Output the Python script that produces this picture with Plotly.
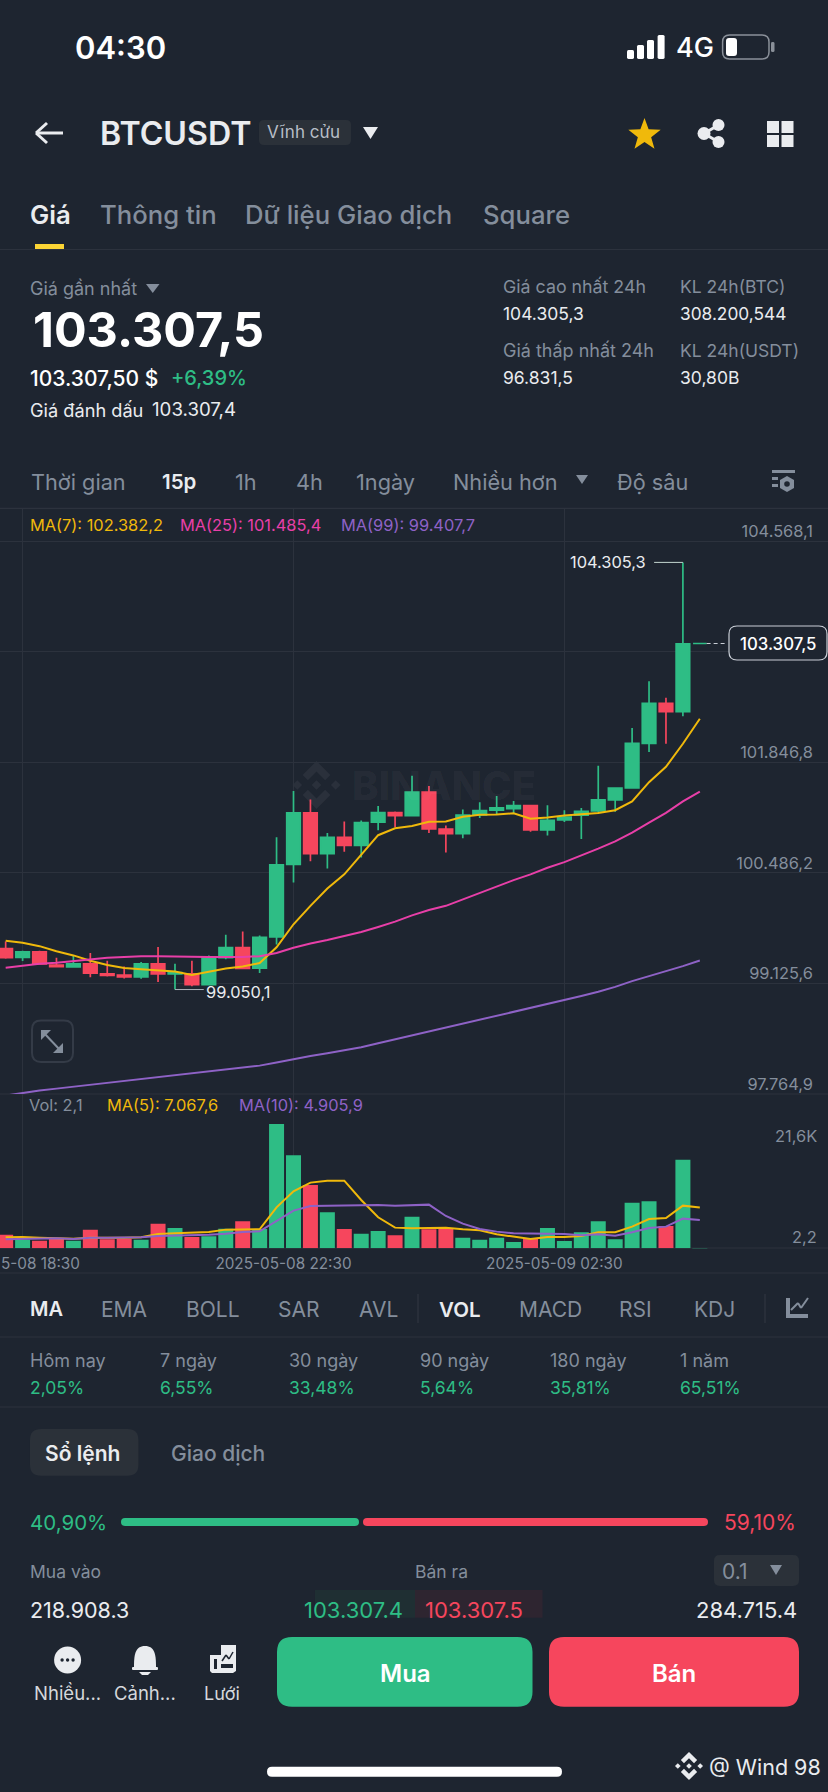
import math
import plotly.graph_objects as go

W = 828
H = 1792
BG = '#1e2530'
GRID = '#2c323d'
GREEN = '#2ebd85'
RED = '#f6465d'
GRAY = '#848e9c'
WHITE = '#eaecef'
YELLOW = '#f0b90b'
PINK = '#e83fa8'
PURPLE = '#8e62c6'
PANEL = '#2b3139'
FONT = 'Inter'

# candles
candle_idx = list(range(42))
candle_open = [99555, 99447, 99513, 99352, 99329, 99366, 99244, 99229, 99206, 99366, 99244, 99244, 99111, 99442,
               99565, 99314, 99697, 100590, 101223, 100722, 100921, 100822, 101110, 101228, 101190, 101478, 101025,
               100968, 101200, 101256, 101275, 101313, 101015, 101138, 101195, 101247, 101384, 101530, 102078,
               102570, 102470, 103307.5]
candle_high = [99640, 99527, 99527, 99442, 99470, 99499, 99404, 99333, 99390, 99574, 99366, 99404, 99470, 99725,
               99763, 99716, 100925, 101492, 101388, 100977, 101119, 101129, 101308, 101242, 101681, 101554, 101067,
               101266, 101355, 101431, 101370, 101313, 101318, 101256, 101285, 101804, 101530, 102267, 102844,
               102640, 104305.3, 103307.5]
candle_low = [99428, 99400, 99366, 99324, 99324, 99201, 99211, 99187, 99182, 99144, 99050.1, 99092, 99111, 99423,
              99300, 99253, 99603, 100368, 100628, 100538, 100746, 100675, 101011, 101048, 101190, 100977, 100737,
              100911, 101162, 101200, 101223, 100992, 100944, 101110, 100902, 101228, 101237, 101530, 101974,
              102074, 102414, 103307.5]
candle_close = [99442, 99513, 99366, 99333, 99366, 99253, 99225, 99206, 99366, 99244, 99258, 99111, 99442, 99565,
                99310, 99692, 100585, 101223, 100722, 100921, 100822, 101105, 101228, 101190, 101478, 101025, 100968,
                101195, 101252, 101285, 101313, 101015, 101133, 101171, 101242, 101384, 101530, 102078, 102570,
                102470, 103302, 103307.5]
ma7 = [99650, 99626, 99584, 99522, 99470, 99404, 99352, 99314, 99300, 99286, 99272, 99229, 99267, 99310, 99333,
       99376, 99570, 99853, 100080, 100292, 100467, 100703, 100949, 101034, 101062, 101114, 101119, 101176, 101200,
       101204, 101218, 101152, 101166, 101190, 101204, 101223, 101256, 101365, 101601, 101790, 102074, 102382.2]
ma25 = [99319, 99343, 99366, 99381, 99404, 99428, 99442, 99451, 99461, 99461, 99456, 99451, 99451, 99451, 99451,
        99461, 99499, 99565, 99617, 99659, 99707, 99758, 99820, 99886, 99962, 100028, 100080, 100160, 100240, 100316,
        100396, 100467, 100548, 100618, 100699, 100784, 100873, 100982, 101105, 101223, 101365, 101485.4]
ma99 = [97746, 97779, 97807, 97831, 97855, 97883, 97907, 97930, 97954, 97977, 97996, 98020, 98044, 98067, 98091,
        98114, 98152, 98195, 98233, 98266, 98299, 98341, 98388, 98436, 98488, 98535, 98582, 98634, 98681, 98733,
        98780, 98828, 98875, 98918, 98970, 99022, 99083, 99154, 99215, 99277, 99338, 99407.7]

volume = [2370, 1503, 1329, 1676, 1329, 3237, 1561, 1676, 1503, 4277, 3526, 1965, 2081, 3410, 4682, 3352, 21559,
          16126, 10982, 6242, 3352, 2543, 3006, 2254, 5491, 3295, 3410, 1850, 1503, 1850, 1098, 1618, 3526, 1272,
          2774, 4682, 1561, 7919, 8150, 3873, 15375, 2.1]
vol_ma5 = [1907, 1965, 1850, 1792, 1676, 1850, 1792, 1850, 1907, 2485, 2601, 2659, 2832, 3237, 3295, 3295, 7109,
           9884, 11387, 11733, 11733, 8381, 5375, 3584, 3468, 3468, 3584, 3295, 3121, 2428, 1965, 1618, 1965, 1965,
           2139, 2774, 2774, 3757, 5086, 5260, 7398, 7067.6]
vol_ma10 = [1561, 1618, 1734, 1734, 1618, 1850, 1850, 1850, 1907, 2139, 2196, 2254, 2370, 2543, 2832, 2948, 4740,
            6531, 7341, 7398, 7398, 7398, 7514, 7398, 7514, 7572, 5607, 4277, 3352, 2890, 2601, 2543, 2543, 2485,
            2254, 2428, 2196, 2774, 3526, 3757, 5144, 4905.9]

price_ticks = [97764.9, 99125.6, 100486.2, 101846.8, 103207.4, 104568.1]
price_tick_text = ['97.764,9', '99.125,6', '100.486,2', '101.846,8', '', '104.568,1']
time_ticks = [1, 17, 33]
time_tick_text = ['', '2025-05-08 22:30', '2025-05-09 02:30']

tabs = [('Giá', 30), ('Thông tin', 100), ('Dữ liệu Giao dịch', 245.6), ('Square', 483)]
intervals = [('Thời gian', 31.7), ('1h', 235.6), ('4h', 296), ('1ngày', 356.6), ('Nhiều hơn', 453), ('Độ sâu', 617)]
indicators_gray = [('EMA', 101), ('BOLL', 186), ('SAR', 278), ('AVL', 359), ('MACD', 519), ('RSI', 619), ('KDJ', 694)]
periods = ['Hôm nay', '7 ngày', '30 ngày', '90 ngày', '180 ngày', '1 năm']
period_values = ['2,05%', '6,55%', '33,48%', '5,64%', '35,81%', '65,51%']
period_x = [30, 160, 289.5, 420, 550, 680]

shapes = []
notes = []


def px(x):
    return x / W


def py(y):
    return 1 - y / H


def P(x, y):
    return f'{px(x):.5f},{py(y):.5f}'


def label(x, y, text, size, color, anchor='left', weight=400, family=FONT):
    if anchor == 'left':
        x = x - 1.5
    notes.append(dict(xref='paper', yref='paper', x=px(x), y=py(y), text=text, showarrow=False, xanchor=anchor,
                      yanchor='middle', borderpad=0, font=dict(size=size, color=color, family=family, weight=weight)))


def poly(points, fill, layer='above'):
    path = 'M ' + ' L '.join(P(a, b) for a, b in points) + ' Z'
    shapes.append(dict(type='path', xref='paper', yref='paper', path=path, fillcolor=fill, line_width=0, layer=layer))


def rect(x0, y0, x1, y1, fill, r=0, border=None, bw=1.5, layer='above'):
    path = (f'M {P(x0 + r, y0)} L {P(x1 - r, y0)} Q {P(x1, y0)} {P(x1, y0 + r)} L {P(x1, y1 - r)} '
            f'Q {P(x1, y1)} {P(x1 - r, y1)} L {P(x0 + r, y1)} Q {P(x0, y1)} {P(x0, y1 - r)} L {P(x0, y0 + r)} '
            f'Q {P(x0, y0)} {P(x0 + r, y0)} Z')
    shapes.append(dict(type='path', xref='paper', yref='paper', path=path, fillcolor=fill, layer=layer,
                       line=dict(color=border or fill, width=bw if border else 0)))


def circle(cx, cy, r, fill):
    shapes.append(dict(type='circle', xref='paper', yref='paper', x0=px(cx - r), x1=px(cx + r), y0=py(cy + r),
                       y1=py(cy - r), fillcolor=fill, line_width=0))


def seg(x0, y0, x1, y1, color, width=1.0, dash='solid', layer='above'):
    shapes.append(dict(type='line', xref='paper', yref='paper', x0=px(x0), y0=py(y0), x1=px(x1), y1=py(y1),
                       line=dict(color=color, width=width, dash=dash), layer=layer))


def tri_down(x0, y0, x1, y1, fill):
    poly([(x0, y0), (x1, y0), ((x0 + x1) / 2, y1)], fill)


def binance_logo(cx, cy, s, color, layer='above'):
    parts = [[(0, -.2), (.2, 0), (0, .2), (-.2, 0)],
             [(-.8, -.2), (-.6, 0), (-.8, .2), (-1, 0)],
             [(.8, -.2), (1, 0), (.8, .2), (.6, 0)],
             [(0, -1), (.58, -.42), (.36, -.2), (0, -.56), (-.36, -.2), (-.58, -.42)],
             [(0, 1), (.58, .42), (.36, .2), (0, .56), (-.36, .2), (-.58, .42)]]
    for part in parts:
        poly([(cx + a * s, cy + b * s) for a, b in part], color, layer)


# status bar
label(75, 47, '04:30', 31, 'white', weight=600)
for x0, top in [(627, 50), (637, 45), (647, 40), (657.6, 35)]:
    rect(x0, top, x0 + 7, 59, 'white', r=1.5)
label(676, 47, '4G', 27, 'white', weight=500)
rect(722.6, 35, 769, 59, 'rgba(0,0,0,0)', r=7, border='#8a9099')
rect(771, 42, 774.5, 52, '#8a9099', r=1.5)
rect(726, 38, 737, 56, 'white', r=3)

# header
seg(63, 133, 37, 133, WHITE, 3)
seg(47, 123, 36, 133, WHITE, 3)
seg(47, 143, 36, 133, WHITE, 3)
label(100, 134, 'BTCUSDT', 32.2, WHITE, weight=600)
rect(259, 120, 351, 145, PANEL, r=5)
label(267, 132, 'Vĩnh cửu', 17, '#b7bdc6')
tri_down(363, 127, 378, 139, WHITE)
star = [(644.5 + (17 if k % 2 == 0 else 7) * math.sin(k * math.pi / 5),
         135 - (17 if k % 2 == 0 else 7) * math.cos(k * math.pi / 5)) for k in range(10)]
poly(star, YELLOW)
seg(704, 133.5, 718.5, 125, WHITE, 3)
seg(704, 133.5, 718.5, 142, WHITE, 3)
circle(704, 133.5, 6.5, WHITE)
circle(718.5, 125, 6, WHITE)
circle(718.5, 142, 6, WHITE)
rect(767, 121, 779, 133, WHITE)
rect(781.5, 121, 793.5, 133, WHITE)
rect(767, 135, 779, 147, WHITE)
rect(781.5, 135, 793.5, 147, WHITE)

# tabs
for k, (name, x0) in enumerate(tabs):
    label(x0, 214, name, 25.7, WHITE if k == 0 else GRAY, weight=600 if k == 0 else 500)
rect(35, 244, 64, 249, '#fcd535')
seg(0, 249.5, W, 249.5, GRID, 1.2)

# price block
label(30, 289, 'Giá gần nhất', 18, GRAY)
tri_down(146, 284, 159.5, 293, GRAY)
label(33, 329, '103.307,5', 48.5, 'white', weight=700)
label(30.6, 378, '103.307,50 $', 21, 'white', weight=500)
label(171.7, 378, '+6,39%', 20, GREEN, weight=500)
label(30, 410, 'Giá đánh dấu', 18.2, WHITE)
label(152, 410, '103.307,4', 18.7, WHITE)
label(503.4, 286.7, 'Giá cao nhất 24h', 17.8, GRAY)
label(503.4, 313.7, '104.305,3', 17.5, WHITE)
label(680, 286.7, 'KL 24h(BTC)', 17.5, GRAY)
label(680, 313.7, '308.200,544', 17.3, WHITE)
label(503.4, 350.7, 'Giá thấp nhất 24h', 18, GRAY)
label(503.4, 377.7, '96.831,5', 17.5, WHITE)
label(680, 350.7, 'KL 24h(USDT)', 17.5, GRAY)
label(680, 377.7, '30,80B', 17.5, WHITE)

# interval row
for name, x0 in intervals:
    label(x0, 481.7, name, 21.7, GRAY)
label(162, 481.7, '15p', 20.5, WHITE, weight=600)
tri_down(576, 475, 588, 484, GRAY)
rect(772, 470, 795, 473, GRAY)
rect(772, 477, 778, 480, GRAY)
rect(772, 484, 778, 487, GRAY)
poly([(787, 476), (794, 480), (794, 488), (787, 492), (780, 488), (780, 480)], GRAY)
circle(787, 484, 2.8, BG)

# pane lines and chart legends
seg(0, 508.4, W, 508.4, GRID, 1.2, layer='below')
seg(0, 1094, W, 1094, GRID, 1.2, layer='below')
seg(0, 1273, W, 1273, GRID, 1.2, layer='below')
seg(0, 1248, W, 1248, GRID, 1.2, layer='below')
label(30, 524.5, 'MA(7): 102.382,2', 16.4, YELLOW)
label(180, 524.5, 'MA(25): 101.485,4', 16.4, PINK)
label(341, 524.5, 'MA(99): 99.407,7', 16.4, PURPLE)
label(29, 1105, 'Vol: 2,1', 16.4, GRAY)
label(107, 1105, 'MA(5): 7.067,6', 16.4, YELLOW)
label(239, 1105, 'MA(10): 4.905,9', 16.4, PURPLE)
label(818, 1136, '21,6K', 16.4, GRAY, anchor='right')
label(818, 1236.7, '2,2', 16.4, GRAY, anchor='right')
label(80.5, 1263.7, '5-08 18:30', 15.3, GRAY, anchor='right')

# watermark
binance_logo(316.5, 785, 24, '#2a303b', layer='below')
label(352, 785, 'BINANCE', 40, 'rgba(255,255,255,0.045)', weight=800)

# expand button
rect(32, 1020.5, 73, 1062, 'rgba(0,0,0,0)', r=9, border='#343b47', bw=2)
seg(44, 1033, 60, 1050, GRAY, 2)
poly([(41, 1030), (51, 1030), (41, 1040)], GRAY)
poly([(63, 1053), (53, 1053), (63, 1043)], GRAY)

# last price tag
rect(729, 626, 827, 660, BG, r=8, border='#c9ced6', bw=1.2)
label(778, 644, '103.307,5', 16.8, 'white', anchor='center', weight=500)

# indicator row
label(30, 1309, 'MA', 20, WHITE, weight=600)
label(439.5, 1309, 'VOL', 20.5, WHITE, weight=600)
for name, x0 in indicators_gray:
    label(x0, 1309, name, 21, GRAY)
seg(418, 1294, 418, 1323, GRID, 1.5)
seg(765, 1294, 765, 1323, GRID, 1.5)
poly([(786, 1298), (790, 1298), (790, 1314), (808, 1314), (808, 1318), (786, 1318)], GRAY)
seg(791, 1310, 798, 1303, GRAY, 2)
seg(798, 1303, 801, 1308, GRAY, 2)
seg(801, 1308, 808, 1298, GRAY, 2)
seg(0, 1337, W, 1337, GRID, 1.2)

# period row
for name, val, x0 in zip(periods, period_values, period_x):
    label(x0, 1360.7, name, 18, GRAY)
    label(x0, 1387, val, 17.5, GREEN)
seg(0, 1407, W, 1407, GRID, 1.2)

# order book
rect(30, 1429, 138.4, 1475.7, PANEL, r=11)
label(45, 1453, 'Sổ lệnh', 21, WHITE, weight=600)
label(171, 1453, 'Giao dịch', 21, GRAY, weight=500)
label(30, 1522, '40,90%', 20.5, GREEN)
rect(121, 1518, 359, 1526, GREEN, r=4)
rect(363, 1518, 708, 1526, RED, r=4)
label(724, 1522, '59,10%', 21, RED)
label(30, 1571, 'Mua vào', 17.5, GRAY)
label(415, 1571, 'Bán ra', 17.5, GRAY)
rect(714, 1555, 799, 1586, PANEL, r=6)
label(722, 1571, '0.1', 21, GRAY)
tri_down(770, 1565, 782, 1575, GRAY)
rect(315, 1590, 415, 1617.7, '#1f2f33')
rect(415, 1590, 542.5, 1617.7, '#2e2530')
label(30, 1610, '218.908.3', 21.5, WHITE)
label(304, 1610, '103.307.4', 22, GREEN)
label(425, 1610, '103.307.5', 22, RED)
label(798, 1610, '284.715.4', 22, WHITE, anchor='right')

# bottom bar
circle(67.6, 1660, 13.5, WHITE)
for dx in (-5.5, 0, 5.5):
    circle(67.6 + dx, 1660, 1.7, BG)
shapes.append(dict(type='path', xref='paper', yref='paper', fillcolor=WHITE, line_width=0,
                   path=f'M {P(145, 1646)} C {P(135, 1646)} {P(134, 1655)} {P(134, 1667)} L {P(156, 1667)} '
                        f'C {P(156, 1655)} {P(155, 1646)} {P(145, 1646)} Z'))
rect(132, 1667, 158, 1670, WHITE, r=1)
poly([(139, 1672), (151, 1672), (148, 1675), (142, 1675)], WHITE)
poly([(221, 1645), (236, 1645), (236, 1671), (233, 1673), (212, 1673), (210, 1671), (210, 1655), (221, 1655)], WHITE)
seg(222, 1661, 226, 1655, BG, 1.5)
seg(226, 1655, 229, 1659, BG, 1.5)
seg(229, 1659, 233, 1652, BG, 1.5)
rect(221, 1664, 233, 1668, BG)
rect(214, 1659, 217, 1669, BG)
label(67, 1693, 'Nhiều...', 18.5, '#d5d8dc', anchor='center')
label(145, 1693, 'Cảnh...', 18.5, '#d5d8dc', anchor='center')
label(222, 1693, 'Lưới', 18, '#d5d8dc', anchor='center')
rect(277, 1637, 532.5, 1706.7, GREEN, r=15)
rect(549, 1637, 799, 1706.7, RED, r=15)
label(405, 1673, 'Mua', 24, 'white', anchor='center', weight=600)
label(673.5, 1673, 'Bán', 24, 'white', anchor='center', weight=600)
rect(267, 1766.7, 562, 1776.7, 'white', r=5)
binance_logo(689, 1766, 14, WHITE)
label(709, 1766.7, '@ Wind 98', 21.5, WHITE)

vol_colors = [GREEN if c >= o else RED for o, c in zip(candle_open, candle_close)]

fig = go.Figure()
fig.add_trace(go.Candlestick(x=candle_idx, open=candle_open, high=candle_high, low=candle_low, close=candle_close,
                             xaxis='x', yaxis='y', whiskerwidth=0,
                             increasing=dict(line=dict(color=GREEN, width=1.7), fillcolor=GREEN),
                             decreasing=dict(line=dict(color=RED, width=1.7), fillcolor=RED)))
fig.add_scatter(x=candle_idx, y=ma7, mode='lines', line=dict(color=YELLOW, width=2), xaxis='x', yaxis='y')
fig.add_scatter(x=candle_idx, y=ma25, mode='lines', line=dict(color=PINK, width=2), xaxis='x', yaxis='y')
fig.add_scatter(x=candle_idx, y=ma99, mode='lines', line=dict(color=PURPLE, width=2), xaxis='x', yaxis='y')

# high / low / last markers sit on the price scale
fig.add_scatter(x=[38.3, 40], y=[104305.3, 104305.3], mode='lines', line=dict(color='#c4d6d0', width=1), xaxis='x', yaxis='y')
fig.add_scatter(x=[10, 11.7], y=[99050.1, 99050.1], mode='lines', line=dict(color='#a9b0b8', width=1), xaxis='x', yaxis='y')
fig.add_scatter(x=[41.4, 42.6], y=[103307.5, 103307.5], mode='lines', line=dict(color='#c9ced6', width=1, dash='4px,3px'), xaxis='x', yaxis='y')
notes.append(dict(xref='x', yref='y', x=37.9, y=104305.3, text='104.305,3', showarrow=False, xanchor='right',
                  borderpad=0, font=dict(size=16.4, color=WHITE, family=FONT)))
notes.append(dict(xref='x', yref='y', x=11.75, y=99050.1, text='99.050,1', showarrow=False, xanchor='left',
                  borderpad=0, yshift=-2, font=dict(size=16.4, color=WHITE, family=FONT)))

fig.add_bar(x=candle_idx, y=volume, marker=dict(color=vol_colors, line_width=0), width=0.886, xaxis='x2', yaxis='y2')
fig.add_scatter(x=candle_idx, y=vol_ma5, mode='lines', line=dict(color=YELLOW, width=2), xaxis='x2', yaxis='y2')
fig.add_scatter(x=candle_idx, y=vol_ma10, mode='lines', line=dict(color=PURPLE, width=2), xaxis='x2', yaxis='y2')

x_range = [-0.335, 48.57]
fig.update_layout(
    width=W, height=H, margin=dict(l=0, r=0, t=0, b=0), paper_bgcolor=BG, plot_bgcolor=BG,
    showlegend=False, boxgap=0.2, boxgroupgap=0, hovermode=False, shapes=shapes, annotations=notes,
    font=dict(family=FONT, color=GRAY, size=15),
    xaxis=dict(domain=[0, 1], range=x_range, anchor='y', rangeslider_visible=False, showticklabels=False,
               tickvals=time_ticks, showgrid=True, gridcolor=GRID, gridwidth=1.2, zeroline=False, showline=False),
    yaxis=dict(domain=[py(1094), py(508.4)], range=[97764.9, 104969.7], anchor='x', side='right',
               tickvals=price_ticks, ticktext=price_tick_text, ticklabelposition='inside', ticklabelshift=-10,
               ticklabelstandoff=12, tickfont=dict(size=16.4, color=GRAY, family=FONT), showgrid=True, gridcolor=GRID,
               gridwidth=1.2, zeroline=False, showline=False),
    xaxis2=dict(domain=[0, 1], range=x_range, anchor='y2', tickvals=time_ticks, ticktext=time_tick_text,
                ticklabelshift=-10, ticklabelstandoff=4, tickfont=dict(size=15.3, color=GRAY, family=FONT),
                showgrid=True, gridcolor=GRID, gridwidth=1.2, zeroline=False, showline=False),
    yaxis2=dict(domain=[py(1248.3), py(1094)], range=[0, 26756], anchor='x2', showticklabels=False, showgrid=False,
                zeroline=False, showline=False),
)

fig.write_html('out.html', config=dict(displayModeBar=False),
               post_script="document.body.style.margin='0';document.body.style.overflow='hidden';")
